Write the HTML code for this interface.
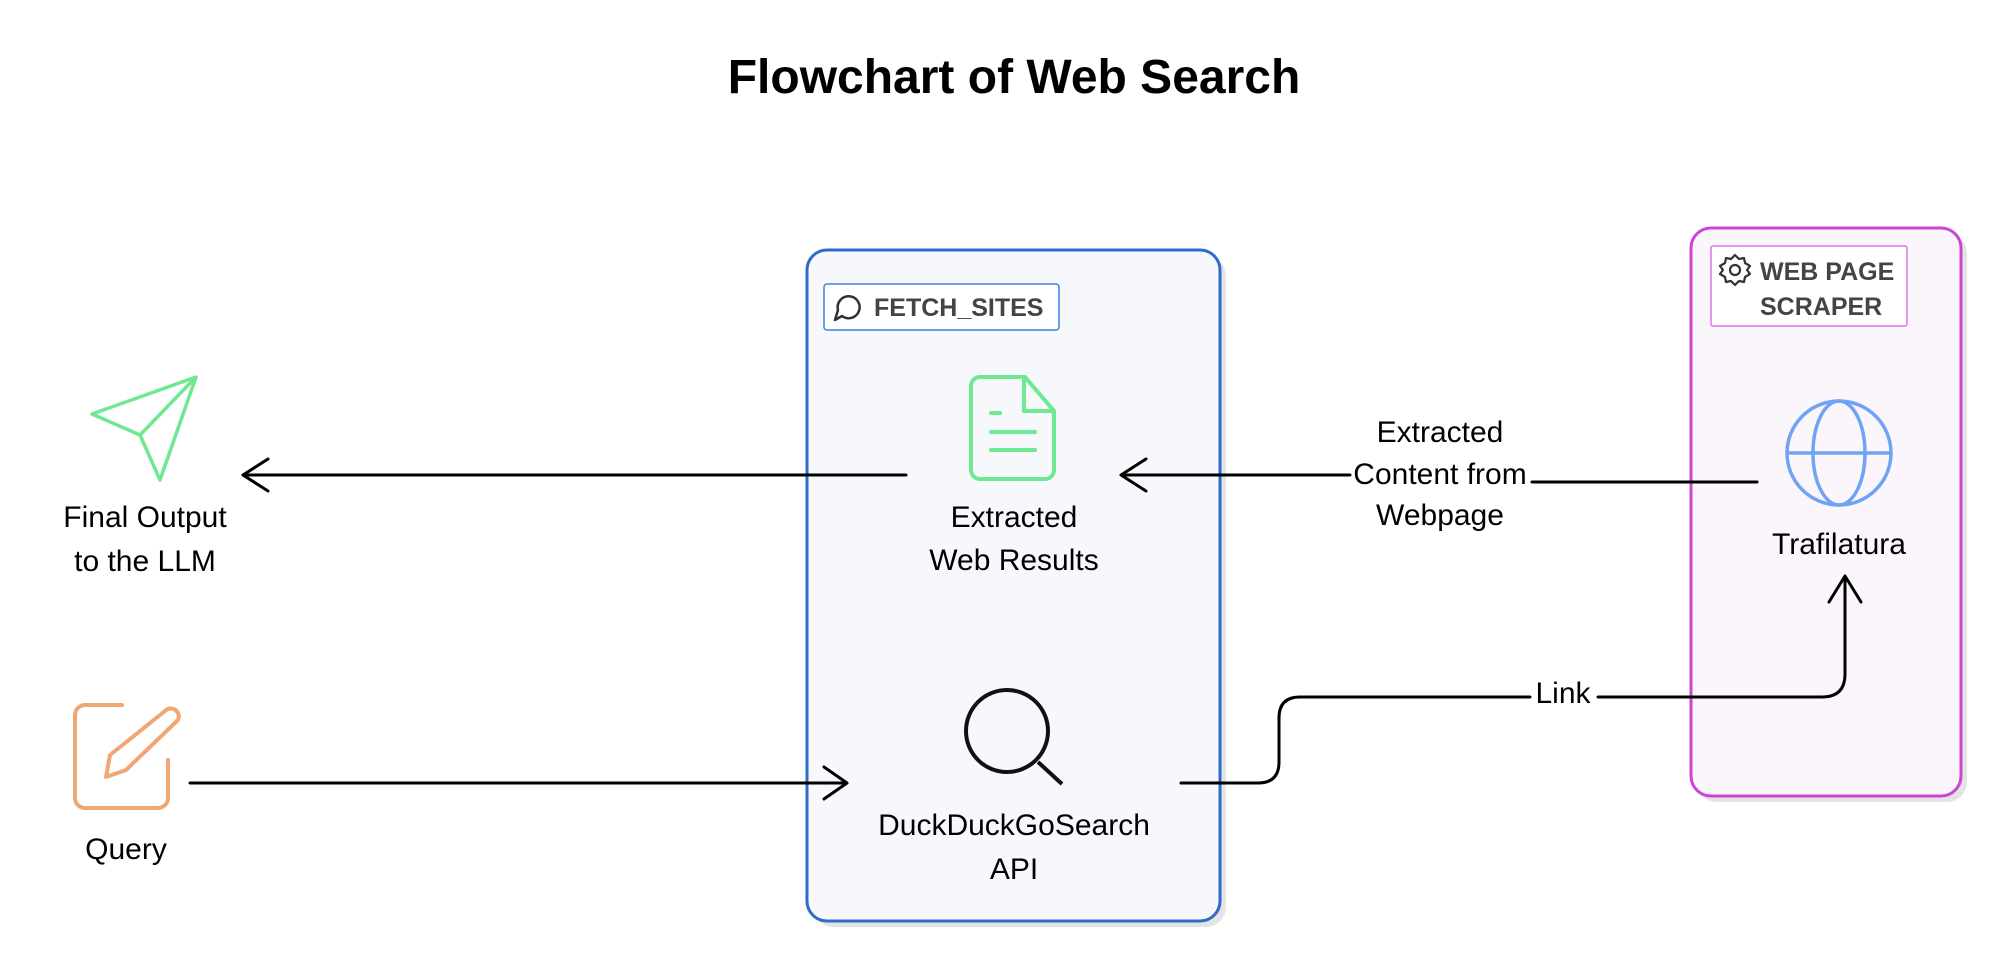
<!DOCTYPE html>
<html><head><meta charset="utf-8"><style>
body{margin:0;width:2012px;height:973px;background:#fff;overflow:hidden;font-family:"Liberation Sans",sans-serif}
</style></head><body>
<svg width="2012" height="973" viewBox="0 0 2012 973" xmlns="http://www.w3.org/2000/svg" font-family="Liberation Sans, sans-serif">
<text x="1014" y="93" font-size="48" font-weight="bold" text-anchor="middle" fill="#000">Flowchart of Web Search</text>
<!-- blue box -->
<rect x="813" y="256" width="413" height="671" rx="20" fill="#e4e4e4"/>
<rect x="807" y="250" width="413" height="671" rx="20" fill="#f6f8fc" stroke="#2f6bc9" stroke-width="3"/>
<rect x="824" y="284" width="235" height="46" rx="3" fill="#fff" stroke="#3f7fe0" stroke-width="1.5"/>
<path d="M842 316 a11 11 0 1 0 -4 -6 l-3 10 z" fill="none" stroke="#333" stroke-width="2.5" stroke-linejoin="round"/>
<text x="874" y="316" font-size="25" font-weight="bold" fill="#444">FETCH_SITES</text>
<!-- purple box -->
<rect x="1697" y="234" width="270" height="568" rx="20" fill="#e4e4e4"/>
<rect x="1691" y="228" width="270" height="568" rx="20" fill="#fbf6fc" stroke="#cc44d4" stroke-width="3"/>
<rect x="1711" y="246" width="196" height="80" rx="2" fill="#fff" stroke="#dd77e8" stroke-width="1.5"/>
<g transform="translate(1735,270)" fill="none" stroke="#333" stroke-width="2.2">
<circle r="5"/><path d="M0,-15 L4,-11 9,-12 10,-7 15,-4 12,0 15,4 10,7 9,12 4,11 0,15 -4,11 -9,12 -10,7 -15,4 -12,0 -15,-4 -10,-7 -9,-12 -4,-11 Z" stroke-linejoin="round"/></g>
<text x="1760" y="280" font-size="25" font-weight="bold" fill="#444">WEB PAGE</text>
<text x="1760" y="315" font-size="25" font-weight="bold" fill="#444">SCRAPER</text>
<!-- doc icon -->
<g fill="none" stroke="#6ee891" stroke-width="4" stroke-linejoin="round" stroke-linecap="round">
<path d="M983 377 H1025 L1054 411 V470 a9 9 0 0 1 -9 9 H980 a9 9 0 0 1 -9 -9 V386 a9 9 0 0 1 9 -9 Z"/>
<path d="M1024 377 V411 H1054"/>
<path d="M991 413 H1000 M991 432 H1035 M991 450 H1035"/>
</g>
<!-- send icon -->
<path d="M196 377 L92 414 L140 435 L160 480 Z M196 377 L140 435" fill="none" stroke="#6ee891" stroke-width="3.5" stroke-linejoin="round"/>
<!-- query icon -->
<g fill="none" stroke="#f0a675" stroke-width="4" stroke-linecap="round" stroke-linejoin="round">
<path d="M122 705 H85 a10 10 0 0 0 -10 10 V798 a10 10 0 0 0 10 10 H158 a10 10 0 0 0 10 -10 V760"/>
<path d="M165 711 a8 8 0 0 1 13 9 L126 770 L106 777 L110 755 Z"/>
</g>
<!-- magnifier -->
<g fill="none" stroke="#111" stroke-width="4"><circle cx="1007" cy="731" r="41"/><path d="M1038 762 L1062 784"/></g>
<!-- globe -->
<g fill="none" stroke="#6fa3f3" stroke-width="3.5"><circle cx="1839" cy="453" r="52"/><path d="M1787 453 H1891"/><ellipse cx="1839" cy="453" rx="26" ry="52"/></g>
<!-- texts -->
<g font-size="30" fill="#000" text-anchor="middle">
<text x="1014" y="527">Extracted</text><text x="1014" y="570">Web Results</text>
<text x="145" y="527">Final Output</text><text x="145" y="571">to the LLM</text>
<text x="126" y="859">Query</text>
<text x="1014" y="835">DuckDuckGoSearch</text><text x="1014" y="879">API</text>
<text x="1839" y="554">Trafilatura</text>
<text x="1440" y="442">Extracted</text><text x="1440" y="484">Content from</text><text x="1440" y="525">Webpage</text>
<text x="1563" y="703">Link</text>
</g>
<!-- connectors -->
<g fill="none" stroke="#000" stroke-width="3" stroke-linecap="round" stroke-linejoin="round">
<path d="M906 475 H243 M268 459 L243 475 L268 491"/>
<path d="M1350 475 H1121 M1146 459 L1121 475 L1146 491"/>
<path d="M1757 482 H1532"/>
<path d="M190 783 H847 M824 767 L847 783 L824 799"/>
<path d="M1181 783 H1258 Q1279 783 1279 762 V718 Q1279 697 1300 697 H1530"/>
<path d="M1598 697 H1822 Q1845 697 1845 674 V576 M1829 602 L1845 576 L1861 602"/>
</g>
</svg>
</body></html>
